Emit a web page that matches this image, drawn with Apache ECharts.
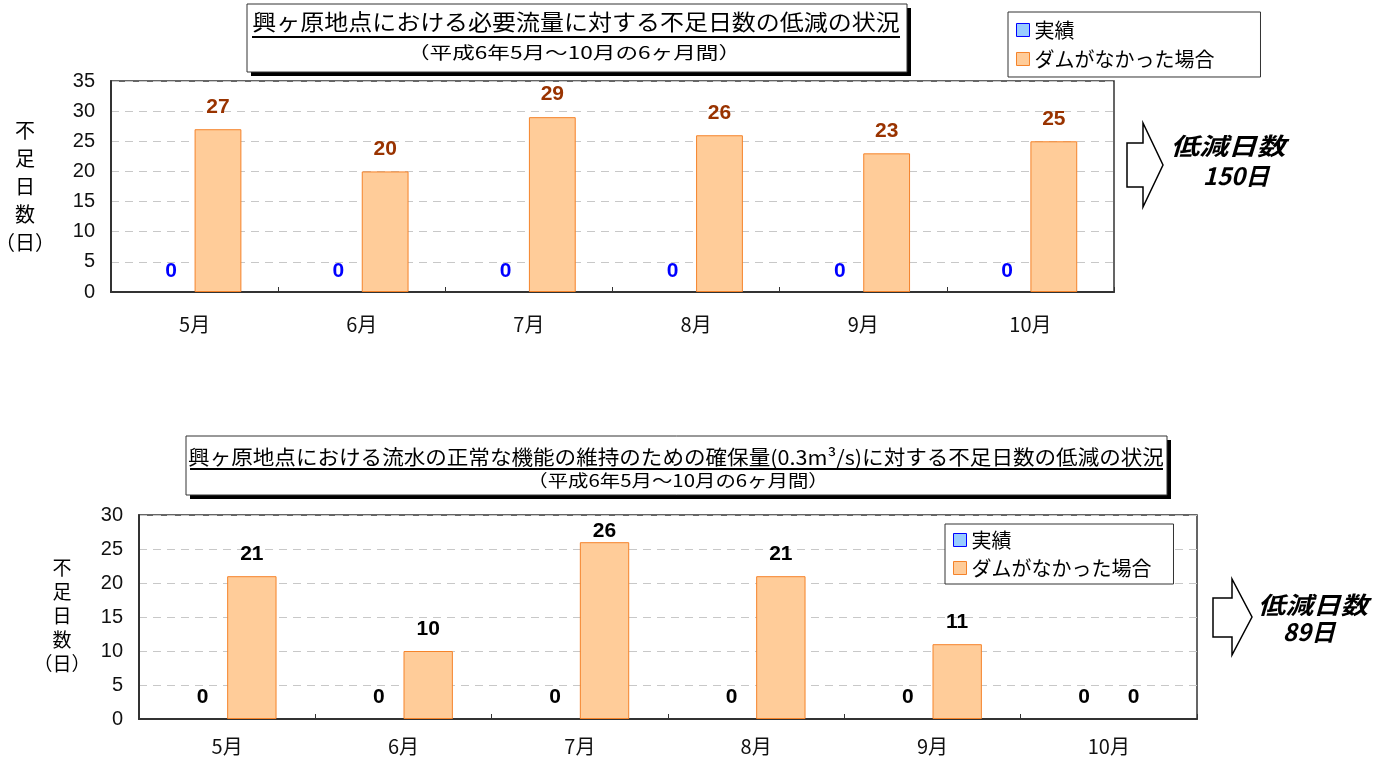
<!DOCTYPE html>
<html><head><meta charset="utf-8">
<script src="https://cdn.jsdelivr.net/npm/echarts@6/dist/echarts.min.js"></script>
<style>html,body{margin:0;padding:0;background:#fff}#c{width:1382px;height:760px}</style>
</head><body><div id="c"></div>
<script>
const months = ['5月','6月','7月','8月','9月','10月'];
const topActual = [0,0,0,0,0,0];
const topNoDam = [27,20,29,26,23,25];
const botActual = [0,0,0,0,0,0];
const botNoDam = [21,10,26,21,11,0];
const seriesNames = ['実績','ダムがなかった場合'];
const topTitle = '興ヶ原地点における必要流量に対する不足日数の低減の状況';
const botTitle = '興ヶ原地点における流水の正常な機能の維持のための確保量(0.3m³/s)に対する不足日数の低減の状況';
const subTitle = '（平成6年5月～10月の6ヶ月間）';
const topTotal = '150日';
const botTotal = '89日';

const JP = "'Noto Sans CJK JP', sans-serif";
const NUM = "'Liberation Sans Narrow', 'Liberation Sans', sans-serif";
const blueFill = '#99CCFF', blueBorder = '#0000FF';
const orFill = '#FFCC99', orBorder = '#F5832A';

function xAxis(gi, margin){
  return {type:'category', gridIndex:gi, data:months,
    axisLine:{lineStyle:{color:'#333', width:2}},
    axisTick:{show:true, inside:true, length:5, lineStyle:{color:'#333'}},
    axisLabel:{color:'#111', fontSize:20, fontFamily:JP, margin:margin}};
}
function yAxis(gi, max){
  return {type:'value', gridIndex:gi, min:0, max:max, interval:5,
    axisLine:{show:true, lineStyle:{color:'#333', width:2}},
    axisTick:{show:false},
    axisLabel:{color:'#111', fontSize:20, fontFamily:NUM, margin:16},
    splitLine:{lineStyle:{color:'#c8c8c8', type:[8,6]}}};
}
// max: axis max, ppu: pixels per unit (to keep labels inside plot area)
function bar(name, gi, data, fill, border, lblColor, dist, max, ppu){
  const items = data.map(v => {
    const it = {value:v};
    if (v === 0) it.itemStyle = {borderWidth:0};
    if ((max - v) * ppu < dist + 22) it.label = {distance:0};
    return it;
  });
  return {type:'bar', name:name, xAxisIndex:gi, yAxisIndex:gi, data:items,
    barWidth:'28%', barGap:'0%',
    itemStyle:{color:fill, borderColor:border, borderWidth:1},
    label:{show:true, position:'top', distance:dist, color:lblColor,
      fontSize:21, fontWeight:'bold', fontFamily:NUM}};
}
function titleBox(x,y,w,h){
  return [
    {type:'rect', shape:{x:x+4,y:y+4,width:w,height:h}, style:{fill:'#000'}},
    {type:'rect', shape:{x:x,y:y,width:w,height:h}, style:{fill:'#fff', stroke:'#333', lineWidth:1}}
  ];
}
function txt(t,x,y,size,opt){
  opt = opt||{};
  return {type:'text', x:x, y:y, scaleX:opt.sx||1,
    style:{text:t, x:0, y:0, align:opt.align||'center', verticalAlign:'middle',
      fontSize:size, fontFamily:opt.font||JP, fontWeight:opt.weight||'normal',
      fontStyle:opt.style||'normal', fill:'#000'}};
}
function arrow(pts){
  return {type:'polygon', shape:{points:pts}, style:{fill:'#fff', stroke:'#000', lineWidth:1.5}};
}
function yName(x, y0, step, size){
  const chars = ['不','足','日','数','（日）'];
  return chars.map((c,i)=>txt(c, x, y0+i*step, size));
}

const graphics = [].concat(
  titleBox(247,4,660,68),
  [txt(topTitle, 576, 22, 22, {sx:1.09}),
   {type:'line', shape:{x1:252,y1:37,x2:900,y2:37}, style:{stroke:'#000', lineWidth:2}},
   txt(subTitle, 574, 53, 17, {sx:1.33})],
  titleBox(186,436,981,59),
  [txt(botTitle, 676, 457, 20, {sx:1.078}),
   {type:'line', shape:{x1:190,y1:469,x2:1163,y2:469}, style:{stroke:'#000', lineWidth:2}},
   txt(subTitle, 678, 481, 17, {sx:1.2})],
  [arrow([[1127,143],[1143,143],[1143,123],[1163,165],[1143,207],[1143,187],[1127,187]]),
   txt('低減日数', 1228, 146, 24, {weight:'bold', style:'italic', sx:1.2}),
   txt(topTotal, 1236, 176, 24, {weight:'bold', style:'italic'}),
   arrow([[1213,598],[1232,598],[1232,579],[1252,617],[1232,655],[1232,637],[1213,637]]),
   txt('低減日数', 1313, 605, 24, {weight:'bold', style:'italic', sx:1.15}),
   txt(botTotal, 1309, 632, 24, {weight:'bold', style:'italic'})],
  yName(25, 130, 28, 20),
  yName(62, 568, 24, 19)
);

const legendData = [
  {name:seriesNames[0], itemStyle:{color:blueFill, borderColor:blueBorder, borderWidth:1}},
  {name:seriesNames[1], itemStyle:{color:orFill, borderColor:orBorder, borderWidth:1}}
];
function legend(left, top, pad, gap){
  return {orient:'vertical', left:left, top:top, data:legendData, icon:'rect',
    itemWidth:13, itemHeight:13, itemGap:gap, padding:pad,
    borderColor:'#333', borderWidth:1, backgroundColor:'#fff',
    textStyle:{fontSize:20, color:'#000', fontFamily:JP}};
}

const chart = echarts.init(document.getElementById('c'));
chart.setOption({
  animation:false,
  grid:[
    {left:111, top:81, right:268, bottom:468, show:true, borderColor:'#333', borderWidth:1.5},
    {left:139, top:515, right:185, bottom:41, show:true, borderColor:'#333', borderWidth:1.5}
  ],
  xAxis:[xAxis(0,22), xAxis(1,17)],
  yAxis:[yAxis(0,35), yAxis(1,30)],
  legend:[legend(1008,12,[8,46,8,8],9), legend(945,524,[6,22,6,8],8)],
  series:[
    bar(seriesNames[0],0,topActual,blueFill,blueBorder,'#0000FF',10,35,6.03),
    bar(seriesNames[1],0,topNoDam,orFill,orBorder,'#993300',12,35,6.03),
    bar(seriesNames[0],1,botActual,blueFill,blueBorder,'#000',11,30,6.8),
    bar(seriesNames[1],1,botNoDam,orFill,orBorder,'#000',11,30,6.8)
  ],
  graphic:graphics
});
</script></body></html>
